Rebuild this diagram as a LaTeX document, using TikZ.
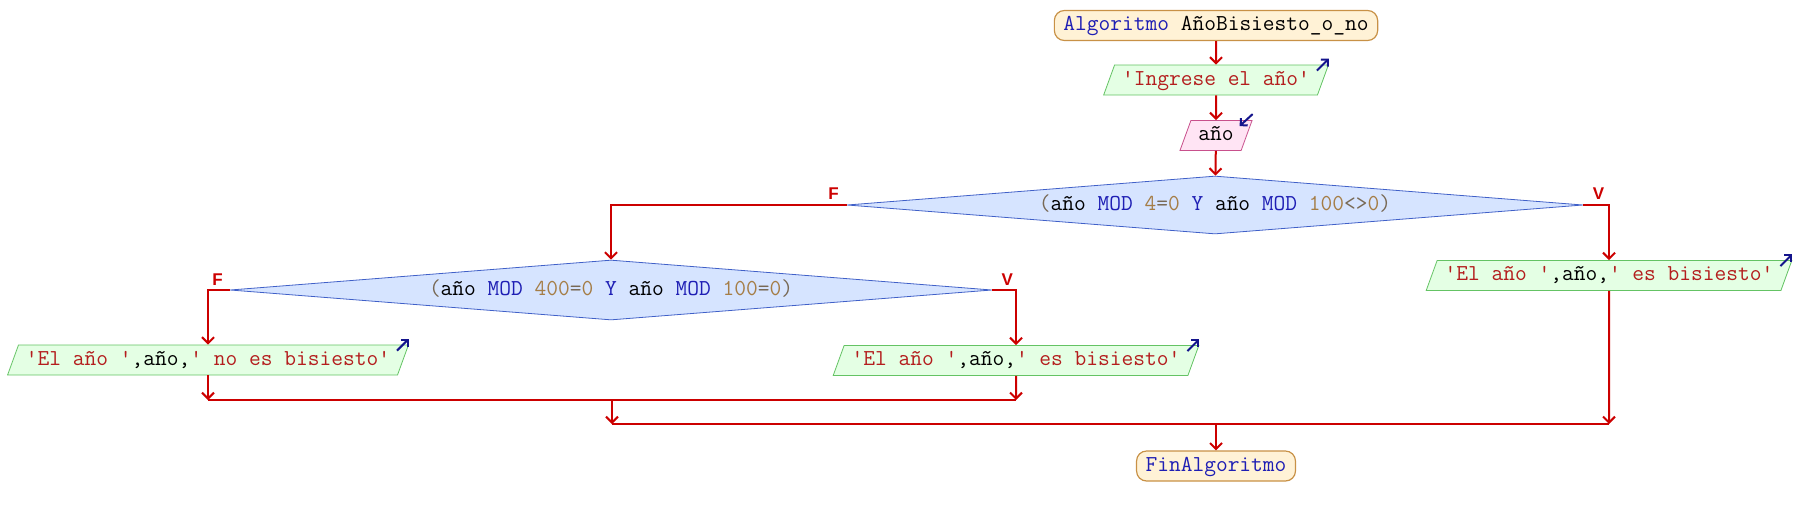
\documentclass[tikz,border=0pt]{standalone}
\usepackage{fontspec}
\setmainfont{Liberation Serif}
\setsansfont{Liberation Sans}
\usetikzlibrary{shapes.geometric,arrows.meta}
\definecolor{flowred}{RGB}{204,0,0}
\definecolor{termfill}{RGB}{255,242,214}
\definecolor{termline}{RGB}{200,145,70}
\definecolor{outfill}{RGB}{228,255,228}
\definecolor{outline}{RGB}{100,195,100}
\definecolor{readfill}{RGB}{255,228,244}
\definecolor{readline}{RGB}{200,80,140}
\definecolor{condfill}{RGB}{214,228,255}
\definecolor{condline}{RGB}{64,96,200}
\definecolor{iconblue}{RGB}{20,20,140}
\definecolor{kwblue}{RGB}{30,30,180}
\definecolor{strred}{RGB}{180,30,30}
\definecolor{numbrown}{RGB}{165,125,70}
\definecolor{opgray}{RGB}{120,105,85}
\newcommand{\kwd}[1]{\textcolor{kwblue}{#1}}
\newcommand{\strg}[1]{\textcolor{strred}{#1}}
\newcommand{\numb}[1]{\textcolor{numbrown}{#1}}
\newcommand{\oper}[1]{\textcolor{opgray}{#1}}
\begin{document}
\begin{tikzpicture}[x=0.5pt, y=-0.5pt,
  every node/.style={font=\ttfamily\fontsize{11.4}{13}\selectfont, text height=7pt, text depth=2pt, inner ysep=3pt},
  term/.style={rectangle, rounded corners=5pt, draw=termline, fill=termfill, inner xsep=4.5pt, line width=0.6pt},
  outbox/.style={trapezium, trapezium left angle=70, trapezium right angle=110, draw=outline, fill=outfill, inner xsep=3.75pt},
  readbox/.style={outbox, draw=readline, fill=readfill},
  cond/.style={diamond, aspect=12.7, inner sep=0pt, draw=condline, fill=condfill},
  flow/.style={draw=flowred, line width=1pt, -{Straight Barb[length=3pt,width=6pt]}},
  link/.style={draw=flowred, line width=1pt},
  lbl/.style={font=\sffamily\bfseries\fontsize{8.5}{9}\selectfont, text=flowred, inner sep=0pt},
  icon/.style={draw=iconblue, line width=1pt, -{Straight Barb[length=2.5pt,width=5pt]}}]
  \useasboundingbox (0,0) rectangle (1798,515);
  \node[term] (start) at (1216,25.5) {\kwd{Algoritmo} AñoBisiesto\_o\_no};
  \node[outbox] (ask) at (1216,80) {\strg{'Ingrese el año'}};
  \node[readbox] (yr) at (1216,135.5) {año};
  \node[cond, minimum width=368pt, minimum height=29pt] (c1) at (1215,205)
    {\oper{(}año \kwd{MOD} \numb{4}\oper{=}\numb{0} \kwd{Y} año \kwd{MOD} \numb{100}\oper{<>}\numb{0}\oper{)}};
  \node[outbox] (yes1) at (1609,275.5) {\strg{'El año '},año,\strg{' es bisiesto'}};
  \node[cond, minimum width=381pt, minimum height=30pt] (c2) at (611,290)
    {\oper{(}año \kwd{MOD} \numb{400}\oper{=}\numb{0} \kwd{Y} año \kwd{MOD} \numb{100}\oper{=}\numb{0}\oper{)}};
  \node[outbox] (no2) at (208,360) {\strg{'El año '},año,\strg{' no es bisiesto'}};
  \node[outbox] (yes2) at (1016,360.5) {\strg{'El año '},año,\strg{' es bisiesto'}};
  \node[term] (fin) at (1216,466) {\kwd{FinAlgoritmo}};
  \coordinate (j1) at (612,400);
  \coordinate (j2) at (1216,424);
  \node[lbl] (f1) at ([shift={(-13,-11)}]c1.west) {F};
  \node[lbl] (v1) at ([shift={(15,-11)}]c1.east) {V};
  \node[lbl] (f2) at ([shift={(-12,-10)}]c2.west) {F};
  \node[lbl] (v2) at ([shift={(15,-10)}]c2.east) {V};
  \draw[flow] (start) -- (ask);
  \draw[flow] (ask) -- (yr);
  \draw[flow] (yr) -- (c1);
  \draw[flow] (c1.west) -| (c2.north);
  \draw[flow] (c1.east) -| (yes1.north);
  \draw[flow] (c2.west) -| (no2.north);
  \draw[flow] (c2.east) -| (yes2.north);
  \draw[flow] (no2) -- (no2 |- j1);
  \draw[flow] (yes2) -- (yes2 |- j1);
  \draw[link] (no2 |- j1) -- (yes2 |- j1);
  \draw[flow] (j1) -- (j1 |- j2);
  \draw[link] (j1 |- j2) -- (yes1 |- j2);
  \draw[flow] (yes1) -- (yes1 |- j2);
  \draw[flow] (j2) -- (fin);
  \draw[icon] ([shift={(-12,6)}]ask.top right corner) -- ++(12,-12);
  \draw[icon] ([shift={(0,-6)}]yr.top right corner) -- ++(-13,12);
  \draw[icon] ([shift={(-12,6)}]yes1.top right corner) -- ++(12,-12);
  \draw[icon] ([shift={(-12,6)}]no2.top right corner) -- ++(12,-12);
  \draw[icon] ([shift={(-12,6)}]yes2.top right corner) -- ++(12,-12);
\end{tikzpicture}
\end{document}
